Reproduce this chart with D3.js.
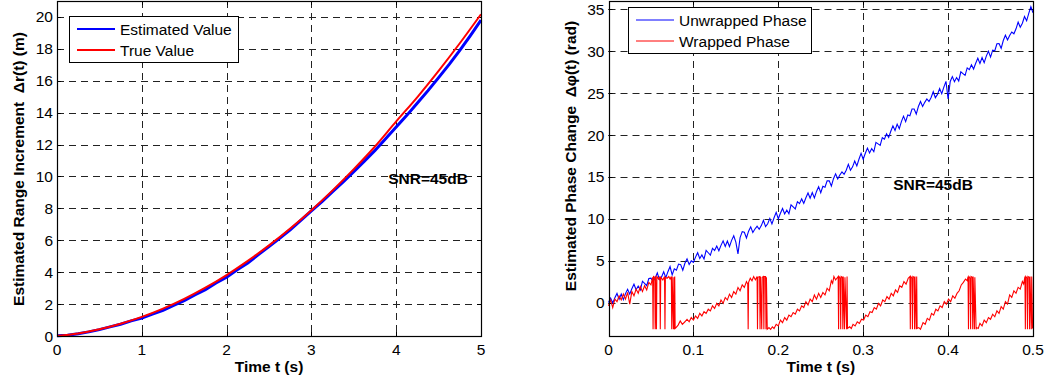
<!DOCTYPE html>
<html>
<head>
<meta charset="utf-8">
<script src="https://cdnjs.cloudflare.com/ajax/libs/d3/7.8.5/d3.min.js"></script>
<style>
  body { margin: 0; background: #fff; }
  text { font-family: "Liberation Sans", Arial, Helvetica, sans-serif; fill: #000; }
</style>
</head>
<body>
<div id="chart"></div>
<script>
// ---- left panel data: range increment (m) vs time (s)
var rangeTime = [0, 0.25, 0.5, 0.75, 1, 1.25, 1.5, 1.75, 2, 2.25, 2.5, 2.75, 3, 3.25, 3.5, 3.75, 4, 4.25, 4.5, 4.75, 5];
var rangeTrue = [0, 0.16, 0.42, 0.77, 1.2, 1.72, 2.33, 3.03, 3.82, 4.71, 5.68, 6.74, 7.89, 9.13, 10.46, 11.88, 13.45, 14.98, 16.62, 18.35, 20.17];
var rangeEstTime = [0, 0.125, 0.25, 0.375, 0.5, 0.625, 0.75, 0.875, 1, 1.125, 1.25, 1.375, 1.5, 1.625, 1.75, 1.875, 2,
  2.125, 2.25, 2.375, 2.5, 2.625, 2.75, 2.875, 3, 3.125, 3.25, 3.375, 3.5, 3.625, 3.75, 3.875, 4,
  4.125, 4.25, 4.375, 4.5, 4.625, 4.75, 4.875, 5];
var rangeEst = [0.02, 0.05, 0.14, 0.26, 0.4, 0.57, 0.74, 0.95, 1.12, 1.37, 1.6, 1.92, 2.22, 2.58, 2.9, 3.32, 3.68,
  4.15, 4.58, 5.1, 5.6, 6.12, 6.66, 7.25, 7.85, 8.43, 9.05, 9.66, 10.3, 10.96, 11.63, 12.36, 13.1,
  13.83, 14.6, 15.38, 16.2, 17.03, 17.9, 18.83, 19.8];
var rangeXTicks = [0, 1, 2, 3, 4, 5];
var rangeYTicks = [0, 2, 4, 6, 8, 10, 12, 14, 16, 18, 20];

// ---- right panel data: phase change (rad) vs time (s)
var phaseStep = 0.0025;
var unwrappedPhase = [
  0.0, 0.52, -0.06, 0.56, 1.08, 0.4, 1.02, 0.34, 1.06, 1.58,
  1.0, 1.64, 2.18, 1.52, 1.96, 1.5, 2.54, 2.28, 2.02, 2.86,
  2.9, 2.51, 2.92, 3.53, 2.74, 3.05, 3.66, 2.97, 3.68, 4.29,
  3.3, 4.03, 3.86, 4.59, 4.52, 3.85, 4.68, 5.21, 4.54, 4.97,
  4.8, 5.42, 5.94, 5.26, 5.68, 5.2, 6.22, 5.94, 5.66, 6.48,
  6.2, 6.74, 6.18, 6.82, 7.36, 6.7, 7.34, 6.68, 7.42, 7.96,
  7.2, 5.8, 7.74, 8.46, 8.38, 7.7, 8.52, 9.04, 8.36, 8.78,
  9.1, 8.74, 9.18, 9.82, 9.06, 9.4, 10.04, 9.38, 10.12, 10.76,
  10.0, 10.66, 11.22, 10.58, 11.04, 10.6, 11.66, 11.42, 11.18, 12.04,
  11.8, 12.37, 11.84, 12.51, 13.08, 12.45, 13.12, 12.49, 13.26, 13.83,
  13.1, 13.88, 13.76, 14.54, 14.52, 13.9, 14.78, 15.36, 14.74, 15.22,
  15.6, 15.3, 15.8, 16.5, 15.8, 16.2, 16.9, 16.3, 17.1, 17.8,
  17.1, 17.82, 18.44, 17.86, 18.38, 18.0, 19.12, 18.94, 18.76, 19.68,
  19.5, 20.15, 19.7, 20.45, 21.1, 20.55, 21.3, 20.75, 21.6, 22.25,
  21.6, 22.4, 22.3, 23.1, 23.1, 22.5, 23.4, 24.0, 23.4, 23.9,
  24.3, 23.99, 24.48, 25.17, 24.46, 24.85, 25.54, 24.93, 25.72, 26.41,
  24.3, 26.39, 26.98, 26.37, 26.86, 26.45, 27.54, 27.33, 27.12, 28.01,
  27.8, 28.39, 27.88, 28.57, 29.16, 28.55, 29.24, 28.63, 29.42, 30.01,
  29.3, 30.13, 30.06, 30.89, 30.92, 30.35, 31.28, 31.91, 31.34, 31.87,
  32.3, 32.09, 32.68, 33.47, 32.86, 33.35, 34.14, 33.63, 34.52, 35.31,
  34.6
];
// [time, phase] pairs, incl. the +pi/-pi flicker
var wrappedPhase = [
  [0, -0.4], [0.0025, 0.3], [0.005, -0.6], [0.0075, 0.4], [0.01, 0.1], [0.0125, 0.8], [0.015, 0.3], [0.0175, 1.0],
  [0.02, 0.4], [0.0225, 1.2], [0.025, -0.2], [0.0275, 1.3], [0.03, 0.8], [0.0325, 1.6], [0.035, 1.1], [0.0375, 1.9],
  [0.04, 1.3], [0.0425, 2.0], [0.045, 1.5], [0.0475, 2.4], [0.05, 2.1], [0.052, 3.0],
  [0.0525, -3.2], [0.053, 3.1], [0.0545, 3.0], [0.055, -3.2], [0.0555, 3.1], [0.0565, -3.2], [0.057, 3.1], [0.059, 2.8],
  [0.0605, 3.1], [0.061, -3.2], [0.0615, 3.0], [0.064, 2.7], [0.066, 3.1], [0.0665, -3.2], [0.067, 3.0], [0.069, 2.9],
  [0.071, 3.1], [0.0725, 2.8], [0.074, 3.1], [0.0745, -3.2], [0.075, 3.1], [0.0765, -3.2], [0.077, 3.0], [0.0775, -3.2],
  [0.078, 3.1], [0.0785, -3.1],
  [0.0795, -3.0], [0.082, -2.7], [0.0845, -2.2], [0.087, -2.6], [0.09, -2.3], [0.0925, -2.0], [0.095, -2.3], [0.0975, -1.8],
  [0.1, -2.1], [0.1025, -1.6], [0.105, -1.9], [0.1075, -1.3], [0.11, -1.6], [0.1125, -1.1], [0.115, -1.3], [0.1175, -0.8],
  [0.12, -1.0], [0.1225, -0.4], [0.125, -0.7], [0.1275, -0.1], [0.13, -0.4], [0.1325, 0.3], [0.135, -0.1], [0.1375, 0.6],
  [0.14, 0.3], [0.1425, 1.0], [0.145, 0.6], [0.1475, 1.3], [0.15, 1.0], [0.1525, 1.8], [0.155, 1.4], [0.1575, 2.1],
  [0.16, 1.8], [0.1625, 2.5], [0.164, 2.2], [0.1645, -3.2], [0.165, 2.4], [0.167, 2.9], [0.169, 2.6], [0.171, 3.1],
  [0.173, 2.7], [0.175, 3.1], [0.1755, -3.2], [0.176, 3.0], [0.178, 3.1], [0.1785, -3.2], [0.179, 3.1], [0.1805, -3.2],
  [0.181, 3.0], [0.1825, 3.1], [0.183, -3.2], [0.1835, 3.1], [0.185, 3.1], [0.1855, -3.2], [0.186, 3.0], [0.187, -3.2],
  [0.189, -3.0], [0.191, -3.2], [0.193, -2.9], [0.195, -3.1], [0.1975, -2.6], [0.2, -2.8], [0.2025, -2.1], [0.205, -2.4],
  [0.2075, -1.8], [0.21, -2.1], [0.2125, -1.5], [0.215, -1.7], [0.2175, -1.2], [0.22, -1.4], [0.2225, -0.8], [0.225, -1.0],
  [0.2275, -0.4], [0.23, -0.6], [0.2325, 0.1], [0.235, -0.3], [0.2375, 0.4], [0.24, 0.1], [0.2425, 0.9], [0.245, 0.4],
  [0.2475, 1.1], [0.25, 0.6], [0.2525, 1.2], [0.255, 0.9], [0.2575, 1.7], [0.26, 1.4], [0.2625, 2.6], [0.264, 2.3],
  [0.2655, 3.1], [0.2675, 2.7], [0.269, 2.9], [0.2705, 3.1], [0.271, -3.2], [0.2715, 3.1], [0.273, 2.9], [0.2735, -3.2],
  [0.274, 3.1], [0.2755, 3.0], [0.276, -3.2], [0.2765, 3.1], [0.278, -3.2], [0.2785, 3.0], [0.2805, -3.2], [0.281, 3.1],
  [0.2815, -3.1], [0.284, -2.9], [0.286, -3.1], [0.288, -2.6], [0.2905, -2.8], [0.293, -2.3], [0.2955, -2.5], [0.298, -2.0],
  [0.3005, -2.1], [0.303, -1.5], [0.3055, -1.7], [0.308, -1.1], [0.3105, -1.2], [0.313, -0.6], [0.3155, -0.8], [0.318, -0.1],
  [0.3205, -0.4], [0.323, 0.3], [0.3255, 0.1], [0.328, 0.7], [0.3305, 0.4], [0.333, 1.1], [0.3355, 0.8], [0.338, 1.5],
  [0.3405, 1.2], [0.343, 2.0], [0.3455, 1.8], [0.348, 2.5], [0.3505, 2.2], [0.353, 2.9], [0.355, 3.1], [0.3555, -3.2],
  [0.356, 3.1], [0.3575, 2.9], [0.358, -3.2], [0.3585, 3.1], [0.36, 3.0], [0.3605, -3.2], [0.361, 3.1], [0.3625, -3.2],
  [0.363, 3.1], [0.3635, -3.1], [0.3655, -3.0], [0.3675, -3.2], [0.3705, -2.4], [0.373, -2.6], [0.3755, -1.9], [0.378, -2.1],
  [0.3805, -1.3], [0.383, -1.5], [0.3855, -0.8], [0.388, -1.0], [0.3905, -0.4], [0.393, -0.6], [0.3955, 0.1], [0.398, -0.2],
  [0.4005, 0.4], [0.403, 0.1], [0.4055, 0.8], [0.408, 0.5], [0.4105, 1.1], [0.413, 1.4], [0.4155, 2.1], [0.418, 2.4],
  [0.4205, 2.8], [0.4225, 2.6], [0.4235, 3.1], [0.424, -3.2], [0.4245, 3.1], [0.426, 2.9], [0.4265, -3.2], [0.427, 3.1],
  [0.4285, 3.0], [0.429, -3.2], [0.4295, 3.1], [0.431, -3.2], [0.4315, 3.0], [0.433, -3.2], [0.4335, -3.0], [0.4355, -3.1],
  [0.4375, -2.5], [0.44, -2.8], [0.4425, -2.1], [0.445, -2.4], [0.4475, -1.8], [0.45, -2.0], [0.4525, -1.4], [0.455, -1.7],
  [0.4575, -1.0], [0.46, -1.3], [0.4625, -0.5], [0.465, -0.8], [0.4675, 0.1], [0.47, -0.2], [0.4725, 0.9], [0.475, 0.6],
  [0.4775, 1.4], [0.48, 1.1], [0.4825, 1.8], [0.485, 1.6], [0.4875, 2.5], [0.489, 2.2], [0.4905, 3.1], [0.491, -3.2],
  [0.4915, 3.1], [0.493, 2.9], [0.4935, -3.2], [0.494, 3.1], [0.4955, 3.0], [0.496, -3.2], [0.4965, 3.1], [0.498, -3.2],
  [0.4985, 3.1], [0.4995, -3.1], [0.5, -2.4]
];
var phaseXTicks = [0, 0.1, 0.2, 0.3, 0.4, 0.5];
var phaseYTicks = [0, 5, 10, 15, 20, 25, 30, 35];

var W = 1046, H = 379;
var FS = "15.5px";
var svg = d3.select("#chart").append("svg").attr("width", W).attr("height", H);

function px(v) { return Math.round(v) + 0.5; }

function drawPanel(cfg) {
  var x = d3.scaleLinear().domain(cfg.xDomain).range([cfg.left, cfg.right]);
  var y = d3.scaleLinear().domain(cfg.yDomain).range([cfg.bottom, cfg.top]);
  var g = svg.append("g");

  // dashed grid
  g.selectAll(".gx").data(cfg.xTicks).enter().append("line")
    .attr("x1", function(d){ return px(x(d)); }).attr("x2", function(d){ return px(x(d)); })
    .attr("y1", cfg.top).attr("y2", cfg.bottom)
    .style("stroke", "#222").style("stroke-width", 1).style("stroke-dasharray", "7,5");
  g.selectAll(".gy").data(cfg.yTicks).enter().append("line")
    .attr("y1", function(d){ return px(y(d)); }).attr("y2", function(d){ return px(y(d)); })
    .attr("x1", cfg.left).attr("x2", cfg.right)
    .style("stroke", "#222").style("stroke-width", 1).style("stroke-dasharray", "7,5");

  // inward ticks on all sides
  var tl = 4;
  cfg.xTicks.forEach(function(d){
    g.append("line").attr("x1", px(x(d))).attr("x2", px(x(d))).attr("y1", cfg.bottom).attr("y2", cfg.bottom - tl).style("stroke", "#000");
    g.append("line").attr("x1", px(x(d))).attr("x2", px(x(d))).attr("y1", cfg.top).attr("y2", cfg.top + tl).style("stroke", "#000");
  });
  cfg.yTicks.forEach(function(d){
    g.append("line").attr("y1", px(y(d))).attr("y2", px(y(d))).attr("x1", cfg.left).attr("x2", cfg.left + tl).style("stroke", "#000");
    g.append("line").attr("y1", px(y(d))).attr("y2", px(y(d))).attr("x1", cfg.right).attr("x2", cfg.right - tl).style("stroke", "#000");
  });

  // tick labels
  g.selectAll(".xl").data(cfg.xTicks).enter().append("text")
    .attr("x", function(d){ return x(d); }).attr("y", cfg.bottom + 19)
    .attr("text-anchor", "middle").style("font-size", FS)
    .text(function(d){ return d3.format("~g")(d); });
  g.selectAll(".yl").data(cfg.yTicks).enter().append("text")
    .attr("x", cfg.left - 4).attr("y", function(d){ return y(d) + 5.5; })
    .attr("text-anchor", "end").style("font-size", FS)
    .text(function(d){ return d; });

  // axis titles
  g.append("text").attr("x", (cfg.left + cfg.right) / 2).attr("y", 372)
    .attr("text-anchor", "middle").style("font-size", FS).style("font-weight", "bold")
    .text("Time t (s)");
  g.append("text")
    .attr("transform", "translate(" + cfg.yTitleX + "," + cfg.yTitleY + ") rotate(-90)")
    .attr("text-anchor", "middle").style("font-size", FS).style("font-weight", "bold")
    .text(cfg.yTitle);

  return { x: x, y: y, g: g, cfg: cfg };
}

function finishPanel(p, legendItems, legendBox, snr) {
  var cfg = p.cfg, g = p.g;
  g.append("rect").attr("x", px(cfg.left)).attr("y", px(cfg.top))
    .attr("width", Math.round(cfg.right) - Math.round(cfg.left)).attr("height", Math.round(cfg.bottom) - Math.round(cfg.top))
    .style("fill", "none").style("stroke", "#000").style("stroke-width", 1.2);

  var lg = g.append("g");
  lg.append("rect").attr("x", px(legendBox.x)).attr("y", px(legendBox.y))
    .attr("width", legendBox.w).attr("height", legendBox.h)
    .style("fill", "#fff").style("stroke", "#000").style("stroke-width", 1);
  legendItems.forEach(function(it, i){
    var yy = legendBox.y + 13 + i * 21;
    lg.append("line").attr("x1", legendBox.x + 8).attr("x2", legendBox.x + 46)
      .attr("y1", yy).attr("y2", yy).style("stroke", it.color).style("stroke-width", it.width);
    lg.append("text").attr("x", legendBox.x + 51).attr("y", yy + 5.5)
      .style("font-size", FS).text(it.label);
  });

  g.append("text").attr("x", snr.x).attr("y", snr.y).attr("text-anchor", "middle")
    .style("font-size", FS).style("font-weight", "bold").text("SNR=45dB");
}

// ---- left panel
var left = drawPanel({
  left: 57, right: 481, top: 1, bottom: 336,
  xDomain: [0, 5], yDomain: [0, 21],
  xTicks: rangeXTicks, yTicks: rangeYTicks,
  yTitleX: 24, yTitleY: 169, yTitle: "Estimated Range Increment \u00a0\u0394r(t) (m)"
});
var rangeLine = d3.line()
  .x(function(d){ return left.x(d[0]); })
  .y(function(d){ return left.y(d[1]); });
left.g.append("path")
  .attr("d", rangeLine(rangeEstTime.map(function(t, i){ return [t, rangeEst[i]]; })))
  .style("fill", "none").style("stroke", "#0000ff").style("stroke-width", 3);
left.g.append("path")
  .attr("d", rangeLine.curve(d3.curveMonotoneX)(rangeTime.map(function(t, i){ return [t, rangeTrue[i]]; })))
  .style("fill", "none").style("stroke", "#ff0000").style("stroke-width", 2);
finishPanel(left,
  [{label: "Estimated Value", color: "#0000ff", width: 2}, {label: "True Value", color: "#ff0000", width: 2}],
  {x: 69, y: 16, w: 169, h: 46},
  {x: 428, y: 184});

// ---- right panel
var right = drawPanel({
  left: 608.5, right: 1033, top: 1, bottom: 336,
  xDomain: [0, 0.5], yDomain: [-4, 36],
  xTicks: phaseXTicks, yTicks: phaseYTicks,
  yTitleX: 576, yTitleY: 156, yTitle: "Estimated Phase Change \u00a0\u0394\u03c6(t) (rad)"
});
var phaseLine = d3.line()
  .x(function(d){ return right.x(d[0]); })
  .y(function(d){ return right.y(d[1]); });
right.g.append("path")
  .attr("d", phaseLine(unwrappedPhase.map(function(v, i){ return [i * phaseStep, v]; })))
  .style("fill", "none").style("stroke", "#0000ff").style("stroke-width", 1.1);
right.g.append("path")
  .attr("d", phaseLine(wrappedPhase))
  .style("fill", "none").style("stroke", "#ff0000").style("stroke-width", 1.1);
finishPanel(right,
  [{label: "Unwrapped Phase", color: "#0000ff", width: 1}, {label: "Wrapped Phase", color: "#ff0000", width: 1}],
  {x: 628, y: 7, w: 183, h: 46},
  {x: 933, y: 190});
</script>
</body>
</html>
